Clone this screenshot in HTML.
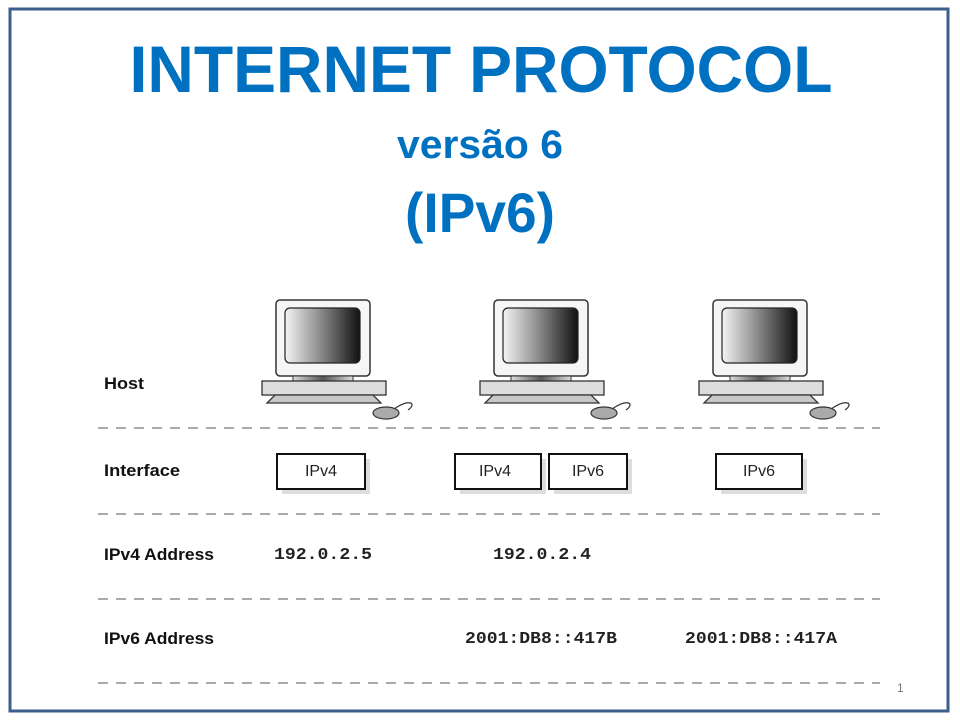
<!DOCTYPE html>
<html><head><meta charset="utf-8"><style>
html,body{margin:0;padding:0;background:#fff;}
svg{display:block;}
</style></head><body>
<svg width="960" height="720" viewBox="0 0 960 720" xmlns="http://www.w3.org/2000/svg" font-family="Liberation Sans, sans-serif">
<defs>
<linearGradient id="scr" x1="0" x2="1" y1="0" y2="0">
<stop offset="0" stop-color="#f4f4f4"/><stop offset="0.45" stop-color="#909090"/><stop offset="1" stop-color="#111"/>
</linearGradient>
<linearGradient id="neck" x1="0" x2="1"><stop offset="0" stop-color="#ddd"/><stop offset="0.5" stop-color="#555"/><stop offset="1" stop-color="#ddd"/></linearGradient>
<g id="pc">
<rect x="-47" y="0" width="94" height="76" rx="4" fill="#f6f6f6" stroke="#333" stroke-width="1.5"/>
<rect x="-38" y="8" width="75" height="55" rx="5" fill="url(#scr)" stroke="#222" stroke-width="1.2"/>
<rect x="-30" y="76" width="60" height="5" fill="url(#neck)" stroke="#333" stroke-width="1"/>
<rect x="-61" y="81" width="124" height="14" fill="#ddd" stroke="#333" stroke-width="1.3"/>
<path d="M-48 95 L50 95 L58 103 L-56 103 Z" fill="#c8c8c8" stroke="#333" stroke-width="1.3"/>
<path d="M70 110 C85 98,95 103,85 110" fill="none" stroke="#333" stroke-width="1.2"/>
<ellipse cx="63" cy="113" rx="13" ry="6" fill="#aaa" stroke="#333" stroke-width="1.2"/>
</g>
</defs>
<rect x="10" y="9" width="938" height="702" fill="#fff" stroke="#3B5E8C" stroke-width="3"/>
<text x="481" y="92" text-anchor="middle" font-size="66" font-weight="bold" fill="#0070C0" textLength="703" lengthAdjust="spacingAndGlyphs">INTERNET PROTOCOL</text>
<text x="480" y="158" text-anchor="middle" font-size="40" font-weight="bold" fill="#0070C0" textLength="166" lengthAdjust="spacingAndGlyphs">versão 6</text>
<text x="480" y="232" text-anchor="middle" font-size="56" font-weight="bold" fill="#0070C0" textLength="150" lengthAdjust="spacingAndGlyphs">(IPv6)</text>
<use href="#pc" x="323" y="300"/>
<use href="#pc" x="541" y="300"/>
<use href="#pc" x="760" y="300"/>
<g stroke="#aaa" stroke-width="2" stroke-dasharray="10 8">
<line x1="98" y1="428" x2="880" y2="428"/>
<line x1="98" y1="514" x2="880" y2="514"/>
<line x1="98" y1="599" x2="880" y2="599"/>
<line x1="98" y1="683" x2="880" y2="683"/>
</g>
<g font-size="17" font-weight="bold" fill="#111">
<text x="104" y="389" textLength="40" lengthAdjust="spacingAndGlyphs">Host</text>
<text x="104" y="476" textLength="76" lengthAdjust="spacingAndGlyphs">Interface</text>
<text x="104" y="560" textLength="110" lengthAdjust="spacingAndGlyphs">IPv4 Address</text>
<text x="104" y="644" textLength="110" lengthAdjust="spacingAndGlyphs">IPv6 Address</text>
</g>
<g fill="#ddd">
<rect x="282" y="459" width="88" height="35"/>
<rect x="460" y="459" width="86" height="35"/>
<rect x="554" y="459" width="78" height="35"/>
<rect x="721" y="459" width="86" height="35"/>
</g>
<g fill="#fff" stroke="#111" stroke-width="2">
<rect x="277" y="454" width="88" height="35"/>
<rect x="455" y="454" width="86" height="35"/>
<rect x="549" y="454" width="78" height="35"/>
<rect x="716" y="454" width="86" height="35"/>
</g>
<g font-size="16" fill="#222" text-anchor="middle">
<text x="321" y="476">IPv4</text>
<text x="495" y="476">IPv4</text>
<text x="588" y="476">IPv6</text>
<text x="759" y="476">IPv6</text>
</g>
<g font-family="Liberation Mono, monospace" font-size="17" font-weight="bold" fill="#222">
<text x="274" y="559" textLength="98" lengthAdjust="spacingAndGlyphs">192.0.2.5</text>
<text x="493" y="559" textLength="98" lengthAdjust="spacingAndGlyphs">192.0.2.4</text>
<text x="465" y="643" textLength="152" lengthAdjust="spacingAndGlyphs">2001:DB8::417B</text>
<text x="685" y="643" textLength="152" lengthAdjust="spacingAndGlyphs">2001:DB8::417A</text>
</g>
<text x="897" y="692" font-size="12" fill="#777">1</text>
</svg>
</body></html>
